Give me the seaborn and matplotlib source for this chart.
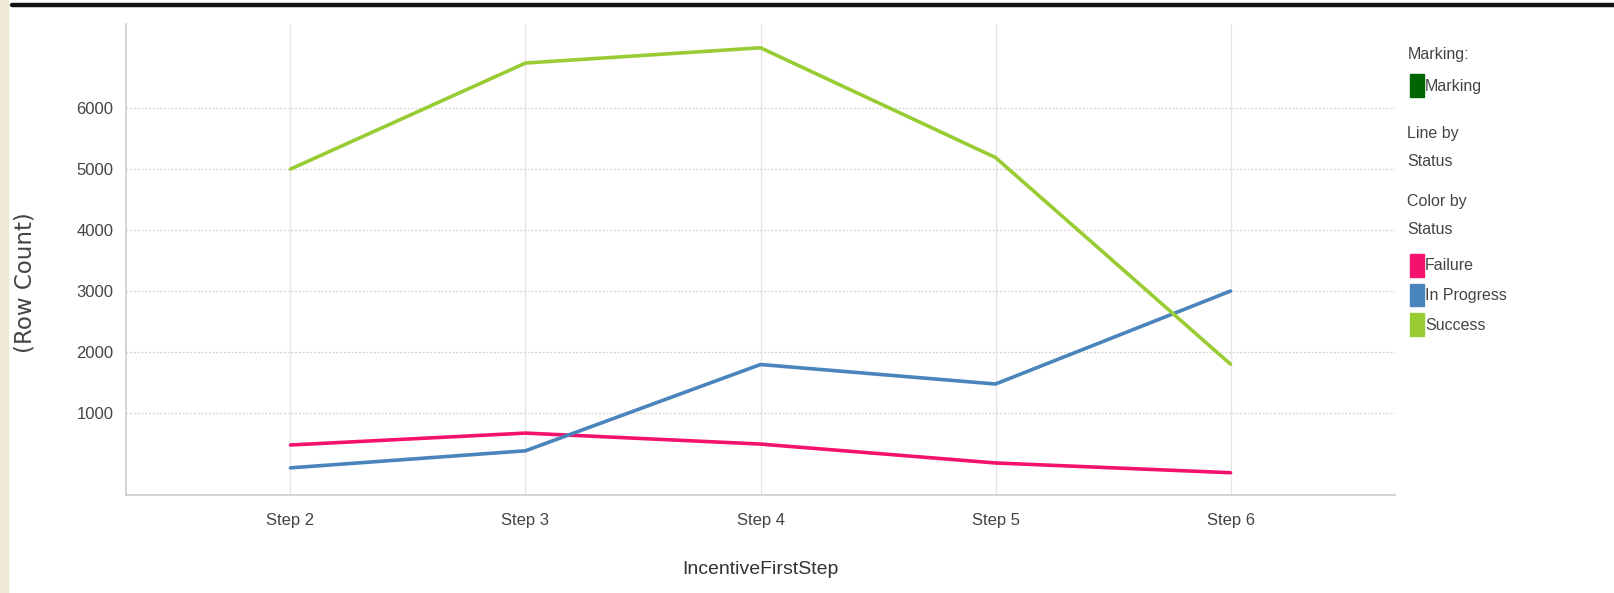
import matplotlib
matplotlib.use("Agg")
import matplotlib.pyplot as plt
import matplotlib.patches as mpatches
import matplotlib.lines as mlines
import seaborn as sns
import pandas as pd

# Row counts per incentive step, split by status
steps = ["Step 2", "Step 3", "Step 4", "Step 5", "Step 6"]
failure = [475, 670, 490, 180, 20]
in_progress = [100, 380, 1795, 1475, 3000]
success = [5000, 6740, 6990, 5190, 1800]
statuses = ["Failure", "In Progress", "Success"]
status_colors = ["#f5126e", "#4a84bd", "#99cc33"]
y_ticks = [1000, 2000, 3000, 4000, 5000, 6000]

df = pd.DataFrame({
    "IncentiveFirstStep": steps * 3,
    "Status": ["Failure"] * 5 + ["In Progress"] * 5 + ["Success"] * 5,
    "Row Count": failure + in_progress + success,
})
df["pos"] = df["IncentiveFirstStep"].map({s: i for i, s in enumerate(steps)})

sns.set_style("white")
plt.rcParams["font.family"] = ["Liberation Sans", "DejaVu Sans"]

fig = plt.figure(figsize=(16.15, 5.93), dpi=100)
ax = fig.add_axes([0.078, 0.1653, 0.7858, 0.7942])

# page decorations: beige margin and heavy rule across the top
fig.patches.append(mpatches.Rectangle((0, 0), 0.005, 1, transform=fig.transFigure,
                                      color="#efe8d4", zorder=0))
fig.lines.append(mlines.Line2D([0.0075, 1], [0.991, 0.991], transform=fig.transFigure,
                               color="#111111", lw=3.2))

sns.lineplot(data=df, x="pos", y="Row Count", hue="Status", hue_order=statuses,
             palette=status_colors, linewidth=2.6, ax=ax, legend=False,
             estimator=None, sort=False)

ax.set_xlim(-0.70, 4.70)
ax.set_ylim(-345, 7380)
ax.set_xticks(range(len(steps)))
ax.set_xticklabels(steps)
ax.set_yticks(y_ticks)
ax.set_yticklabels([str(v) for v in y_ticks])

ax.grid(axis="y", color="#d2d2d2", linestyle=(0, (1.5, 1.5)), linewidth=0.9)
ax.grid(axis="x", color="#e4e4e4", linestyle="-", linewidth=0.9)
ax.set_axisbelow(True)

for side in ["top", "right"]:
    ax.spines[side].set_visible(False)
for side in ["left", "bottom"]:
    ax.spines[side].set_color("#cccccc")
    ax.spines[side].set_linewidth(1.2)

ax.tick_params(axis="x", length=8, color="#cccccc", labelsize=12, labelcolor="#444444", pad=5)
ax.tick_params(axis="y", length=6, color="#cccccc", labelsize=12, labelcolor="#444444", pad=3)

ax.set_xlabel("IncentiveFirstStep", fontsize=14, color="#333333", labelpad=24)
ax.set_ylabel("")
fig.text(25 / 1615, 1 - 283 / 593, "(Row Count)", rotation=90, fontsize=16.5,
         color="#444444", ha="center", va="center", family=["DejaVu Sans"])

# legend panel on the right
lx = 0.8715
def ltext(y, s):
    fig.text(lx, y, s, fontsize=11.5, color="#444444", va="center", ha="left")

def lbox(y, c):
    fig.patches.append(mpatches.Rectangle((lx + 0.0015, y - 0.018), 0.0088, 0.038,
                                          transform=fig.transFigure, color=c))
    return lx + 0.0108

ltext(1 - 55 / 593, "Marking:")
x_m = lbox(1 - 86 / 593, "#006400")
fig.text(x_m, 1 - 86 / 593, "Marking", fontsize=11.5, color="#444444", va="center")
ltext(1 - 133 / 593, "Line by")
ltext(1 - 161 / 593, "Status")
ltext(1 - 201 / 593, "Color by")
ltext(1 - 229 / 593, "Status")
for i, (s, c) in enumerate(zip(statuses, status_colors)):
    y = 1 - (266 + 29.5 * i) / 593
    xx = lbox(y, c)
    fig.text(xx, y, s, fontsize=11.5, color="#444444", va="center")

fig.savefig("out.png", dpi=100, facecolor="white")
